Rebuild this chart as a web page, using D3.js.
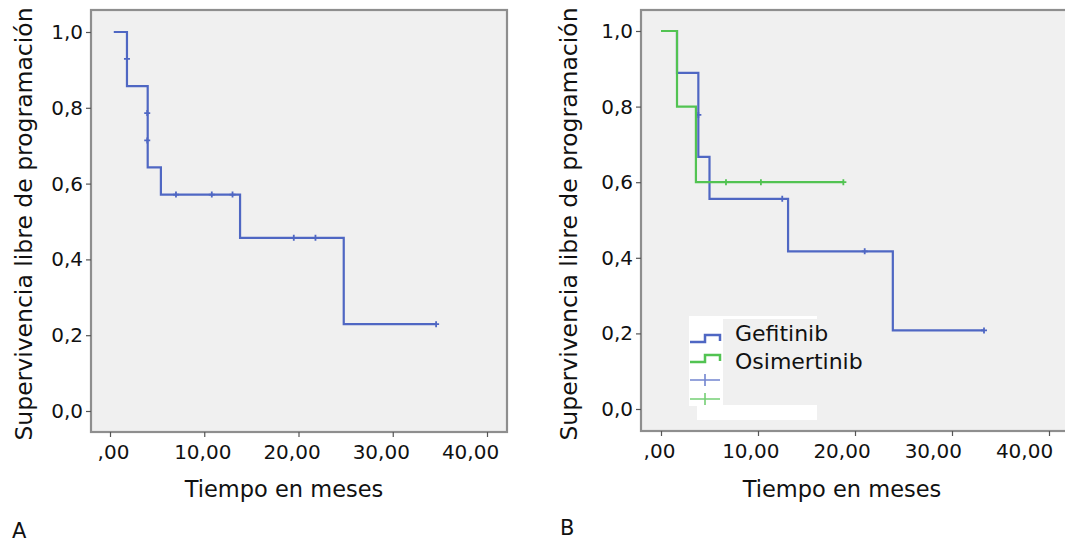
<!DOCTYPE html>
<html>
<head>
<meta charset="utf-8">
<script src="https://cdn.jsdelivr.net/npm/d3@7"></script>
<style>
  body { margin: 0; background: #fff; }
  svg { display: block; font-family: "DejaVu Sans", Verdana, sans-serif; }
</style>
</head>
<body>
<svg id="chart" width="1065" height="542"></svg>
<script>
// ---- data ----
var xTicks = [0, 10, 20, 30, 40];
var xTickLabels = [',00', '10,00', '20,00', '30,00', '40,00'];
var yTicks = [0, 0.2, 0.4, 0.6, 0.8, 1.0];
var yTickLabels = ['0,0', '0,2', '0,4', '0,6', '0,8', '1,0'];

// panel A: all patients
var timesA = [0.4, 1.8, 4.0, 5.4, 13.8, 24.8];
var survA = [1.0, 0.857, 0.643, 0.571, 0.457, 0.229];
var endA = 34.6;
var censorTimesA = [1.8, 3.95, 3.95, 7.0, 10.8, 13.0, 19.5, 21.8, 34.6];
var censorSurvA = [0.929, 0.786, 0.714, 0.571, 0.571, 0.571, 0.457, 0.457, 0.229];

// panel B: Gefitinib
var timesGef = [0, 1.65, 3.85, 5.0, 13.1, 23.9];
var survGef = [1.0, 0.889, 0.667, 0.556, 0.417, 0.208];
var endGef = 33.3;
var censorTimesGef = [3.85, 12.5, 21.0, 33.3];
var censorSurvGef = [0.778, 0.556, 0.417, 0.208];

// panel B: Osimertinib
var timesOsi = [0, 1.65, 3.6];
var survOsi = [1.0, 0.8, 0.6];
var endOsi = 18.8;
var censorTimesOsi = [6.7, 10.3, 18.8];
var censorSurvOsi = [0.6, 0.6, 0.6];

var seriesNames = ['Gefitinib', 'Osimertinib'];

// ---- styles ----
var blue = '#4f67c3', green = '#52c352';
var plotBg = '#f0f0f0', frameCol = '#8e8e8e';
var FONT = '"DejaVu Sans", Verdana, sans-serif';

var svg = d3.select('#chart');

function stepPoints(times, surv, end){
    var pts = times.map(function(t, i){ return [t, surv[i]]; });
    pts.push([end, surv[surv.length - 1]]);
    return pts;
}

function drawPanel(p){
    var g = svg.append('g');
    var x = d3.scaleLinear().domain([0, 40]).range([p.x0, p.x40]);
    var y = d3.scaleLinear().domain([0, 1]).range([p.y0, p.y1]);
    // the tick labels sit a bit tighter than the ticks in the original
    var xl = d3.scaleLinear().domain([0, 40]).range([p.l0, p.l40]);

    g.append('rect')
        .attr('x', p.left).attr('y', p.top)
        .attr('width', p.right - p.left).attr('height', p.bottom - p.top)
        .attr('fill', plotBg)
        .attr('stroke', frameCol)
        .attr('stroke-width', 2.2);

    // y axis
    var yAxis = d3.axisLeft(y).tickValues(yTicks)
        .tickSize(5).tickPadding(3)
        .tickFormat(function(d, i){ return yTickLabels[i]; });
    var ya = g.append('g').attr('transform', 'translate(' + p.left + ',0)').call(yAxis);
    ya.select('.domain').remove();
    ya.selectAll('line').attr('stroke', '#555').attr('stroke-width', 1.2);
    ya.selectAll('text').attr('font-size', 20).attr('fill', '#111').attr('font-family', FONT);

    // x axis
    var xAxis = d3.axisBottom(x).tickValues(xTicks)
        .tickSize(5).tickPadding(8)
        .tickFormat(function(d, i){ return xTickLabels[i]; });
    var xa = g.append('g').attr('transform', 'translate(0,' + p.bottom + ')').call(xAxis);
    xa.select('.domain').remove();
    xa.selectAll('line').attr('stroke', '#555').attr('stroke-width', 1.2);
    xa.selectAll('text').attr('font-size', 20).attr('fill', '#111').attr('font-family', FONT)
        .attr('x', function(d){ return xl(d) - x(d); });

    // titles
    g.append('text')
        .attr('x', p.xTitleX).attr('y', 497)
        .attr('text-anchor', 'middle')
        .attr('font-size', 22.5).attr('fill', '#111')
        .text('Tiempo en meses');
    g.append('text')
        .attr('transform', 'translate(' + p.yTitleX + ',224) rotate(-90)')
        .attr('text-anchor', 'middle')
        .attr('font-size', 23.5).attr('fill', '#111')
        .text('Supervivencia libre de programación');
    g.append('text')
        .attr('x', p.labelX).attr('y', p.labelY)
        .attr('font-size', 21).attr('fill', '#111')
        .text(p.label);

    var line = d3.line()
        .x(function(d){ return x(d[0]); })
        .y(function(d){ return y(d[1]); })
        .curve(d3.curveStepAfter);

    p.series.forEach(function(s){
        g.append('path')
            .datum(stepPoints(s.times, s.surv, s.end))
            .attr('d', line)
            .attr('fill', 'none')
            .attr('stroke', s.color)
            .attr('stroke-width', 2.2);

        var cens = s.censorTimes.map(function(t, i){ return [t, s.censorSurv[i]]; });
        g.selectAll(null).data(cens).enter().append('path')
            .attr('d', function(d){
                var cx = x(d[0]), cy = y(d[1]);
                return 'M' + (cx - 3) + ',' + cy + 'H' + (cx + 3) +
                       'M' + cx + ',' + (cy - 3) + 'V' + (cy + 3);
            })
            .attr('stroke', s.color)
            .attr('stroke-width', 1.8)
            .attr('fill', 'none');
    });
    return g;
}

drawPanel({
    left: 91, right: 507, top: 10, bottom: 432,
    x0: 110, x40: 487, y0: 411, y1: 32, l0: 113, l40: 470,
    xTitleX: 284, yTitleX: 32, label: 'A', labelX: 12, labelY: 538,
    series: [{ times: timesA, surv: survA, end: endA,
               censorTimes: censorTimesA, censorSurv: censorSurvA, color: blue }]
});

drawPanel({
    left: 641, right: 1080, top: 10, bottom: 431,
    x0: 661, x40: 1049, y0: 409, y1: 31, l0: 659, l40: 1024,
    xTitleX: 842, yTitleX: 577, label: 'B', labelX: 560, labelY: 535,
    series: [
        { times: timesGef, surv: survGef, end: endGef,
          censorTimes: censorTimesGef, censorSurv: censorSurvGef, color: blue },
        { times: timesOsi, surv: survOsi, end: endOsi,
          censorTimes: censorTimesOsi, censorSurv: censorSurvOsi, color: green }
    ]
});

// legend (panel B)
var leg = svg.append('g');
leg.append('rect').attr('x', 689).attr('y', 316).attr('width', 128).attr('height', 3).attr('fill', '#fff');
leg.append('rect').attr('x', 689).attr('y', 316).attr('width', 34).attr('height', 90).attr('fill', '#fff');
leg.append('rect').attr('x', 697).attr('y', 405).attr('width', 120).attr('height', 15).attr('fill', '#fff');

var legColors = [blue, green];
var legSymY = [338, 358];
var legTextY = [341, 369];
seriesNames.forEach(function(name, i){
    var cy = legSymY[i];
    leg.append('path')
        .attr('d', 'M690,' + (cy + 4) + 'H705V' + (cy - 3) + 'H720V' + (cy + 3))
        .attr('fill', 'none').attr('stroke', legColors[i]).attr('stroke-width', 2.5);
    leg.append('text')
        .attr('x', 735).attr('y', legTextY[i])
        .attr('font-size', 22).attr('fill', '#111')
        .text(name);
});
[380, 399].forEach(function(cy, i){
    leg.append('path')
        .attr('d', 'M690,' + cy + 'H720M705,' + (cy - 6) + 'V' + (cy + 6))
        .attr('fill', 'none').attr('stroke', legColors[i]).attr('stroke-width', 1.6)
        .attr('opacity', 0.8);
});
</script>
</body>
</html>
